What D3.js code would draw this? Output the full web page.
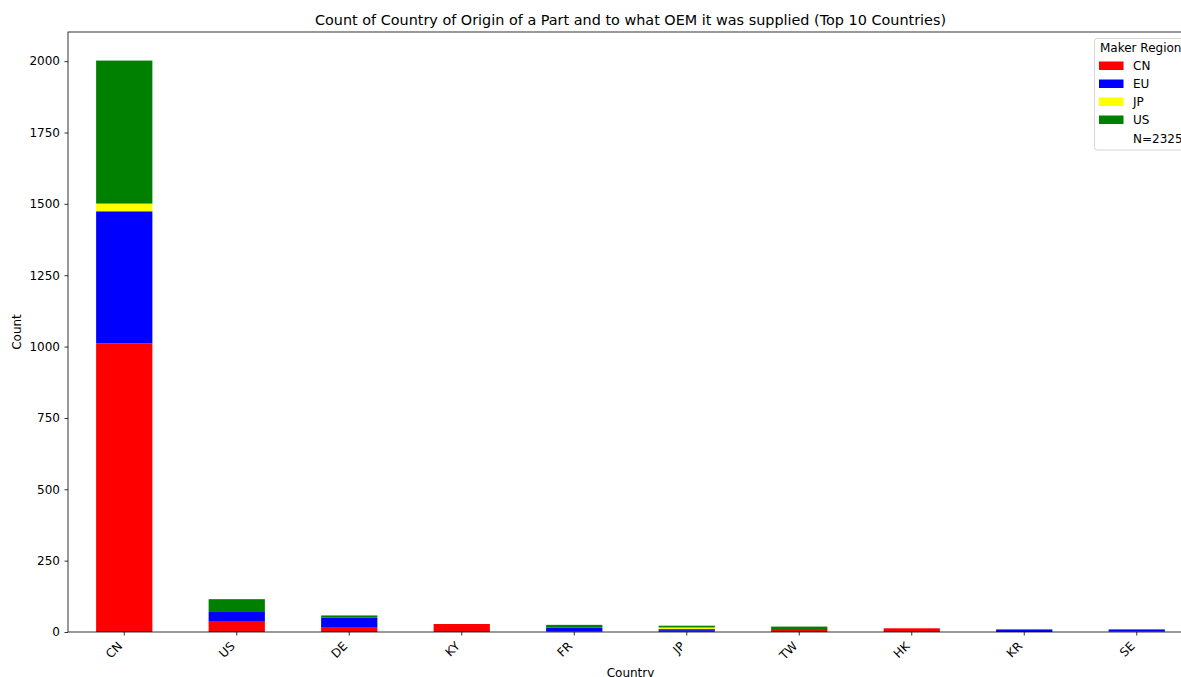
<!DOCTYPE html>
<html>
<head>
<meta charset="utf-8">
<script src="https://cdn.jsdelivr.net/npm/d3@7"></script>
<style>
  html, body { margin: 0; padding: 0; background: #fff; }
  svg { display: block; font-family: "DejaVu Sans", sans-serif; }
</style>
</head>
<body>
<svg id="chart" width="1181" height="677"></svg>
<script>
// Top 10 countries of origin, stacked by maker region of the OEM supplied
const countries = ["CN", "US", "DE", "KY", "FR", "JP", "TW", "HK", "KR", "SE"];
const regions = ["CN", "EU", "JP", "US"];
const regionColors = ["red", "blue", "yellow", "green"];
const cnCounts = [1011, 36, 15, 28, 2, 4, 7, 13, 0, 2];
const euCounts = [463, 34, 35, 0, 13, 6, 0, 0, 9, 7];
const jpCounts = [27, 0, 0, 0, 0, 6, 0, 0, 0, 0];
const usCounts = [501, 45, 8, 0, 10, 6, 12, 0, 0, 0];
const yTicks = [0, 250, 500, 750, 1000, 1250, 1500, 1750, 2000];
const totalN = 2325;

const rows = countries.map((c, i) => ({
  country: c, CN: cnCounts[i], EU: euCounts[i], JP: jpCounts[i], US: usCounts[i]
}));

const svg = d3.select("#chart");
const margin = { left: 68, top: 32, right: 1193, bottom: 632 };

const x = d3.scaleBand().domain(countries)
  .range([margin.left, margin.right]).paddingInner(0.5).paddingOuter(0.25);
const maxTotal = d3.max(rows, d => d.CN + d.EU + d.JP + d.US);
const y = d3.scaleLinear().domain([0, maxTotal * 1.05]).range([margin.bottom, margin.top]);

const stack = d3.stack().keys(regions);
const layers = stack(rows);
const color = d3.scaleOrdinal().domain(regions).range(regionColors);

svg.append("g").selectAll("g").data(layers).join("g")
  .attr("fill", d => color(d.key))
  .selectAll("rect").data(d => d).join("rect")
  .attr("x", d => x(d.data.country))
  .attr("width", x.bandwidth())
  .attr("y", d => y(d[1]))
  .attr("height", d => y(d[0]) - y(d[1]));

// Axes
const fontSize = "12px";
const yAxis = svg.append("g")
  .attr("transform", `translate(${margin.left},0)`)
  .call(d3.axisLeft(y).tickValues(yTicks).tickSize(3.5).tickPadding(4.5).tickFormat(d3.format("d")));
const xAxis = svg.append("g")
  .attr("transform", `translate(0,${margin.bottom})`)
  .call(d3.axisBottom(x).tickSize(3.5).tickPadding(3));

[xAxis, yAxis].forEach(a => {
  a.select(".domain").remove();
  a.selectAll("line").attr("stroke", "#000").attr("stroke-width", 0.8);
  a.selectAll("text").attr("fill", "#000").style("font-size", fontSize)
    .style("font-family", "DejaVu Sans");
});

// Rotated country labels, right edge aligned under each tick
xAxis.selectAll("text")
  .attr("text-anchor", "end")
  .attr("dy", null)
  .attr("y", 0).attr("x", 0)
  .attr("transform", "translate(-4,12) rotate(-45)")
  .attr("dominant-baseline", "central");

// Frame (spines)
svg.append("rect")
  .attr("x", margin.left).attr("y", margin.top)
  .attr("width", margin.right - margin.left).attr("height", margin.bottom - margin.top)
  .attr("fill", "none").attr("stroke", "#000").attr("stroke-width", 0.8);

// Titles
svg.append("text").attr("x", (margin.left + margin.right) / 2).attr("y", 25)
  .attr("text-anchor", "middle").style("font-size", "14.4px")
  .text("Count of Country of Origin of a Part and to what OEM it was supplied (Top 10 Countries)");
svg.append("text").attr("x", (margin.left + margin.right) / 2).attr("y", 677)
  .attr("text-anchor", "middle").style("font-size", fontSize).text("Country");
svg.append("text").attr("transform", `translate(21,${(margin.top + margin.bottom) / 2}) rotate(-90)`)
  .attr("text-anchor", "middle").style("font-size", fontSize).text("Count");

// Legend
const lg = svg.append("g").attr("transform", "translate(1094.5,38.5)");
lg.append("rect").attr("width", 100).attr("height", 111.5).attr("rx", 2.5)
  .attr("fill", "#fff").attr("fill-opacity", 0.8).attr("stroke", "#ccc").attr("stroke-width", 0.8);
lg.append("text").attr("x", 5.5).attr("y", 9.5).attr("dominant-baseline", "central")
  .style("font-size", fontSize).text("Maker Region");
regions.forEach((r, i) => {
  const yy = 27.5 + i * 18;
  lg.append("rect").attr("x", 4.5).attr("y", yy - 4.5).attr("width", 24.5).attr("height", 8.5)
    .attr("fill", color(r));
  lg.append("text").attr("x", 38.5).attr("y", yy).attr("dominant-baseline", "central")
    .style("font-size", fontSize).text(r);
});
lg.append("text").attr("x", 38.5).attr("y", 27.5 + 4 * 18 + 1).attr("dominant-baseline", "central")
  .style("font-size", fontSize).text("N=" + totalN);
</script>
</body>
</html>
